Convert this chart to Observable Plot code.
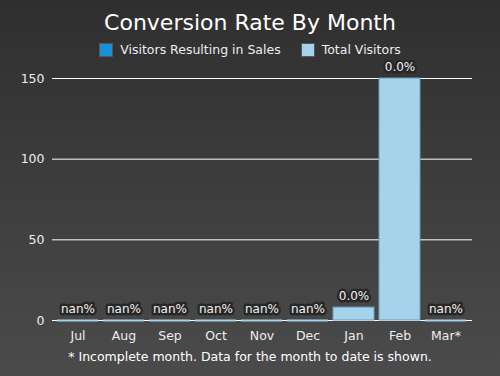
<!DOCTYPE html>
<html>
<head>
<meta charset="utf-8">
<script src="https://cdn.jsdelivr.net/npm/d3@7"></script>
<script src="https://cdn.jsdelivr.net/npm/@observablehq/plot@0.6"></script>
<style>
  html, body { margin: 0; padding: 0; }
  #wrap {
    width: 500px; height: 376px; overflow: hidden;
    background: linear-gradient(to bottom, #2f2f2f, #4b4b4b);
    font-family: "DejaVu Sans", sans-serif; color: #fff; position: relative;
  }
  #title { position: absolute; top: 8px; left: 0; width: 500px; text-align: center; font-size: 22px; line-height: 30px; }
  #legend { position: absolute; top: 42px; left: 0; width: 500px; display: flex; justify-content: center; align-items: center; font-size: 12.5px; color: #eee; }
  .sw { width: 12px; height: 12px; border: 1px solid #555; display: inline-block; margin-right: 7px; }
  .item { display: flex; align-items: center; margin: 0 10px; }
  #chart { position: absolute; top: 60px; left: 0; }
  #caption { position: absolute; top: 349px; left: 0; width: 500px; text-align: center; font-size: 12.5px; color: #fff; }
</style>
</head>
<body>
<div id="wrap">
  <div id="title">Conversion Rate By Month</div>
  <div id="legend"></div>
  <div id="chart"></div>
  <div id="caption">* Incomplete month. Data for the month to date is shown.</div>
</div>
<script>
const months = ["Jul", "Aug", "Sep", "Oct", "Nov", "Dec", "Jan", "Feb", "Mar*"];
const salesVisitors = [0, 0, 0, 0, 0, 0, 0, 0, 0];
const totalVisitors = [0, 0, 0, 0, 0, 0, 8, 150, 0];
const yTicks = [0, 50, 100, 150];
const seriesNames = ["Visitors Resulting in Sales", "Total Visitors"];
const seriesColors = ["#1a90da", "#a6d3ec"];

const rows = months.map((m, i) => {
  const s = salesVisitors[i], t = totalVisitors[i];
  return {
    month: m, sales: s, total: t,
    label: t === 0 ? "nan%" : (s / t * 100).toFixed(1) + "%"
  };
});

const legend = document.getElementById("legend");
seriesNames.forEach((n, i) => {
  const it = document.createElement("span");
  it.className = "item";
  it.innerHTML = `<span class="sw" style="background:${seriesColors[i]}"></span>${n}`;
  legend.appendChild(it);
});

const chart = Plot.plot({
  width: 500,
  height: 285,
  marginLeft: 52,
  marginRight: 28,
  marginTop: 18,
  marginBottom: 25,
  style: { background: "transparent", color: "#eee", fontFamily: "DejaVu Sans, sans-serif", fontSize: "12.5px" },
  x: { domain: months, padding: 0.1, label: null },
  y: { domain: [0, 150], ticks: yTicks, label: null },
  marks: [
    Plot.ruleY(yTicks, { stroke: "#fff", strokeWidth: 1, strokeOpacity: 1 }),
    Plot.barY(rows, { x: "month", y: "total", fill: seriesColors[1], stroke: "#6d9cbc", strokeWidth: 1 }),
    Plot.tickY(rows.filter(d => d.total === 0), { x: "month", y: 0, stroke: seriesColors[1], strokeWidth: 2 }),
    Plot.barY(rows, { x: "month", y: "sales", fill: seriesColors[0] }),
    Plot.text(rows, {
      x: "month", y: "total", text: "label", dy: -11,
      fill: "#f2f2f2", stroke: "#272727", strokeWidth: 5, strokeLinejoin: "round",
      fontSize: 12
    }),
    Plot.axisX({ tickSize: 0, tickPadding: 11, fontSize: 12.5, color: "#eee" }),
    Plot.axisY({ ticks: yTicks, tickSize: 0, tickPadding: 8, fontSize: 12.5, color: "#eee" })
  ]
});
document.getElementById("chart").appendChild(chart);
</script>
</body>
</html>
